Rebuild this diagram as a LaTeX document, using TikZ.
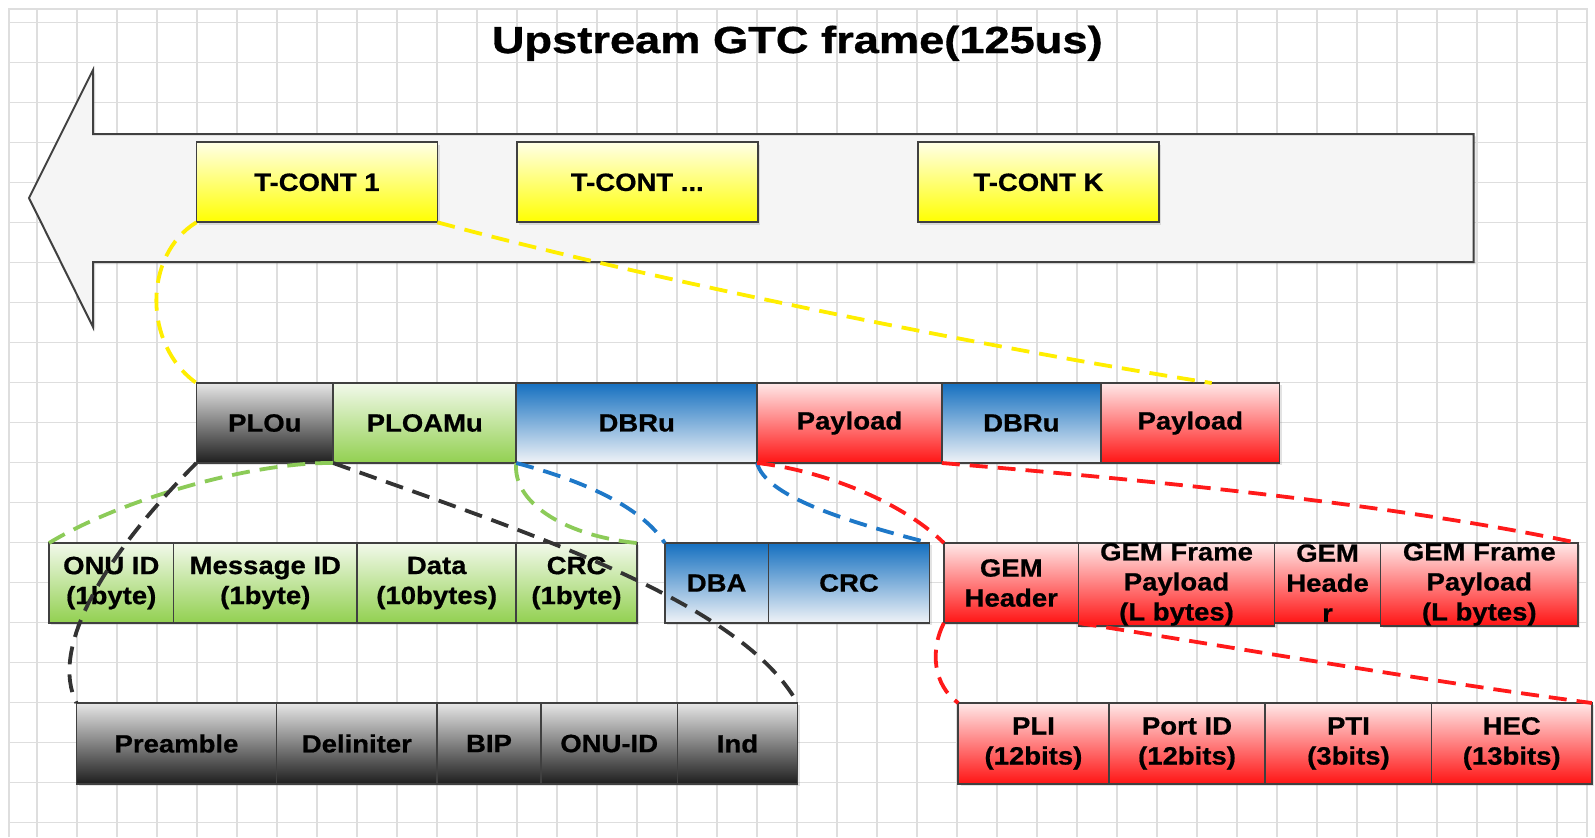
\documentclass[tikz,border=0pt]{standalone}
\usepackage{fontspec}
\setmainfont{Liberation Sans}
\newfontfamily\boxfont[FakeStretch=1.1,BoldFeatures={FakeBold=0.7}]{Liberation Sans}
\newfontfamily\ttlfont[FakeStretch=1.2,BoldFeatures={FakeBold=0.9}]{Liberation Sans}
\usetikzlibrary{shadows,calc}
\definecolor{gridc}{HTML}{DEDEDE}
\definecolor{edgec}{HTML}{404040}
\definecolor{yelT}{HTML}{FFFFE6}
\definecolor{yelB}{HTML}{FFFF00}
\definecolor{gryT}{HTML}{E6E6E6}
\definecolor{gryB}{HTML}{1E1E1E}
\definecolor{grnT}{HTML}{F2F9EB}
\definecolor{grnB}{HTML}{92D050}
\definecolor{bluT}{HTML}{1570C0}
\definecolor{bluB}{HTML}{F0F3F7}
\definecolor{redT}{HTML}{FFE8E8}
\definecolor{redB}{HTML}{FF1414}
\definecolor{arrF}{HTML}{F5F5F5}
\definecolor{dyel}{HTML}{FFEE00}
\definecolor{dgrn}{HTML}{8CCB58}
\definecolor{dblu}{HTML}{1E78C8}
\definecolor{dred}{HTML}{FF1A1A}
\definecolor{dblk}{HTML}{333333}
\tikzset{
  gridline/.style={draw=gridc, line width=0.8pt},
  cell/.style={draw=edgec, line width=0.85pt, inner sep=0pt, outer sep=0pt,
    anchor=north west, minimum height=40pt, align=center,
    font={\boxfont\bfseries\fontsize{12.5}{15}\selectfont},
    drop shadow={shadow xshift=1.2pt, shadow yshift=-1.2pt, opacity=0.22}},
  tall/.style={minimum height=40.5pt},
  yel/.style={top color=yelT, bottom color=yelB},
  gry/.style={top color=gryT, bottom color=gryB},
  grn/.style={top color=grnT, bottom color=grnB},
  blu/.style={top color=bluT, bottom color=bluB},
  redc/.style={top color=redT, bottom color=redB},
  conn/.style={line width=1.9pt, dash pattern=on 9pt off 5pt},
}
\begin{document}
\begin{tikzpicture}[x=0.5pt,y=-0.5pt]
\useasboundingbox (0,0) rectangle (1595,837);
\fill[white] (0,0) rectangle (1595,837);
% grid
\foreach \k in {0,...,38} {\draw[gridline] ({36.7+40*\k},9) -- ({36.7+40*\k},837);}
\foreach \k in {0,...,20} {\draw[gridline] (9,{22.5+40*\k}) -- (1587,{22.5+40*\k});}
\draw[gridline] (9,837) -- (9,9) -- (1587,9) -- (1587,837);
% title
\node[anchor=base, font={\ttlfont\bfseries\fontsize{18.85}{22}\selectfont}] (title) at (797.3,53) {Upstream GTC frame(125us)};
% big arrow
\path[draw=edgec, line width=1pt, fill=arrF, drop shadow={shadow xshift=1.2pt, shadow yshift=-1.2pt, opacity=0.18}]
  (29,198) -- (93,70) -- (93,134) -- (1473.5,134) -- (1473.5,262) -- (93,262) -- (93,327) -- cycle;
% T-CONTs
\node[cell, yel, minimum width=120.5pt] (tc1) at (196.4,142.3) {T-CONT 1};
\node[cell, yel, minimum width=120.5pt] (tc2) at (516.8,142.3) {T-CONT ...};
\node[cell, yel, minimum width=120.5pt] (tck) at (917.9,142.3) {T-CONT K};
% row 2
\node[cell, gry, minimum width=68.4pt] (plou) at (196.4,383) {PLOu};
\node[cell, grn, minimum width=91.55pt] (ploamu) at (plou.north east) {PLOAMu};
\node[cell, blu, minimum width=120.4pt] (dbru1) at (ploamu.north east) {DBRu};
\node[cell, redc, minimum width=92.35pt] (pay1) at (dbru1.north east) {Payload};
\node[cell, blu, minimum width=79.6pt] (dbru2) at (pay1.north east) {DBRu};
\node[cell, redc, minimum width=89.3pt] (pay2) at (dbru2.north east) {Payload};
% row 3
\node[cell, grn, minimum width=62.25pt] (onuid) at (49,543) {ONU ID\\(1byte)};
\node[cell, grn, minimum width=91.8pt] (msgid) at (onuid.north east) {Message ID\\(1byte)};
\node[cell, grn, minimum width=79.6pt] (data) at (msgid.north east) {Data\\(10bytes)};
\node[cell, grn, minimum width=60.2pt] (crc1) at (data.north east) {CRC\\(1byte)};
\node[cell, blu, minimum width=51.8pt] (dba) at (664.8,543) {DBA};
\node[cell, blu, minimum width=80.6pt] (crc2) at (dba.north east) {CRC};
\node[cell, redc, minimum width=67.35pt] (gemh1) at (943.9,543) {GEM\\Header};
\node[cell, redc, minimum width=97.95pt] (gemp1) at (gemh1.north east) {GEM Frame\\Payload\\(L bytes)};
\node[cell, redc, minimum width=53.05pt] (gemh2) at (gemp1.north east) {GEM\\Heade\\r};
\node[cell, redc, minimum width=98.7pt] (gemp2) at (gemh2.north east) {GEM Frame\\Payload\\(L bytes)};
% row 4
\node[cell, tall, gry, minimum width=100pt] (pre) at (76.5,703) {Preamble};
\node[cell, tall, gry, minimum width=80.35pt] (del) at (pre.north east) {Deliniter};
\node[cell, tall, gry, minimum width=51.8pt] (bip) at (del.north east) {BIP};
\node[cell, tall, gry, minimum width=68.4pt] (onu) at (bip.north east) {ONU-ID};
\node[cell, tall, gry, minimum width=59.9pt] (ind) at (onu.north east) {Ind};
\node[cell, tall, redc, minimum width=75.25pt] (pli) at (958.2,703) {PLI\\(12bits)};
\node[cell, tall, redc, minimum width=78.3pt] (port) at (pli.north east) {Port ID\\(12bits)};
\node[cell, tall, redc, minimum width=83.15pt] (pti) at (port.north east) {PTI\\(3bits)};
\node[cell, tall, redc, minimum width=80.1pt] (hec) at (pti.north east) {HEC\\(13bits)};
% connectors
\draw[conn, dyel] (tc1.south west) .. controls (143,255) and (143,345) .. (plou.north west);
\draw[conn, dyel] (tc1.south east) .. controls (650,280) and (1000,350) .. ($(pay2.north west)!0.62!(pay2.north east)$);
\draw[conn, dgrn] (ploamu.south west) .. controls (250,462) and (120,500) .. (onuid.north west);
\draw[conn, dgrn] (ploamu.south east) .. controls (512,500) and (560,535) .. (crc1.north east);
\draw[conn, dblk] (plou.south west) .. controls (100,560) and (50,650) .. (pre.north west);
\draw[conn, dblk] (plou.south east) .. controls (520,530) and (740,600) .. (ind.north east);
\draw[conn, dblu] (dbru1.south west) .. controls (580,480) and (640,505) .. (dba.north west);
\draw[conn, dblu] (dbru1.south east) .. controls (765,495) and (840,520) .. (crc2.north east);
\draw[conn, dred] (pay1.south west) .. controls (820,470) and (900,500) .. (gemh1.north west);
\draw[conn, dred] (pay1.south east) .. controls (1150,480) and (1400,505) .. (gemp2.north east);
\draw[conn, dred] (gemh1.south west) .. controls (930,650) and (933,685) .. (pli.north west);
\draw[conn, dred] (gemh1.south east) .. controls (1250,650) and (1420,680) .. (hec.north east);
\end{tikzpicture}
\end{document}
